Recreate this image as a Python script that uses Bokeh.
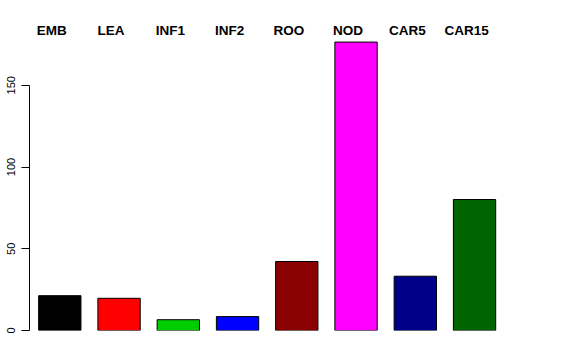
from bokeh.plotting import figure
from bokeh.models import ColumnDataSource, Range1d, FixedTicker
from bokeh.core.properties import value
from bokeh.embed import file_html
from bokeh.resources import INLINE

categories = ["EMB", "LEA", "INF1", "INF2", "ROO", "NOD", "CAR5", "CAR15"]
values = [21.3, 19.7, 6.6, 8.5, 42.2, 176.4, 33.2, 80.1]
colors = ["#000000", "#FF0000", "#00CD00", "#0000FF", "#8B0000", "#FF00FF", "#00008B", "#006400"]
y_ticks = [0, 50, 100, 150]

# bar geometry in R barplot style (width 1, space 0.4)
xs = [0.4 + i * 1.4 + 0.5 for i in range(len(categories))]

PX_PER_Y = 1.635
PX_PER_X = 42.32
W, H = 576, 360
left, right, top, bottom = 29, 30, 0, 30
frame_h = H - top - bottom
frame_w = W - left - right
x0 = 0.9 - (59.3 - left) / PX_PER_X
y_top = frame_h / PX_PER_Y

p = figure(width=W, height=H, output_backend="svg", toolbar_location=None,
           x_range=Range1d(x0, x0 + frame_w / PX_PER_X),
           y_range=Range1d(0, y_top),
           x_axis_location=None,
           min_border_left=left, min_border_right=right,
           min_border_top=top, min_border_bottom=bottom)
p.outline_line_color = None
p.grid.visible = False
p.background_fill_color = "white"
p.border_fill_color = "white"

src = ColumnDataSource(dict(x=xs, top=values, color=colors, cat=categories,
                            ly=[(frame_h - 29.5 + top) / PX_PER_Y] * len(xs)))
p.vbar(x="x", top="top", bottom=0, width=1.0, fill_color="color",
       line_color="black", line_width=1, source=src)

p.text(x="x", y="ly", text="cat", source=src, x_offset=-8,
       text_font=value("Liberation Sans"), text_font_style="bold",
       text_font_size="13.5px", text_align="center", text_baseline="middle",
       text_color="black")

ax = p.yaxis[0]
ax.ticker = FixedTicker(ticks=y_ticks)
ax.bounds = (0, 150)
ax.major_label_orientation = "vertical"
ax.major_label_text_font = "Liberation Sans"
ax.major_label_text_font_size = "11px"
ax.major_label_text_color = "black"
ax.major_tick_out = 8
ax.major_tick_in = 0
ax.minor_tick_out = 0
ax.minor_tick_in = 0
ax.major_label_standoff = 7
ax.axis_line_color = "black"
ax.major_tick_line_color = "black"

open("out.html", "w").write(file_html(p, INLINE))
